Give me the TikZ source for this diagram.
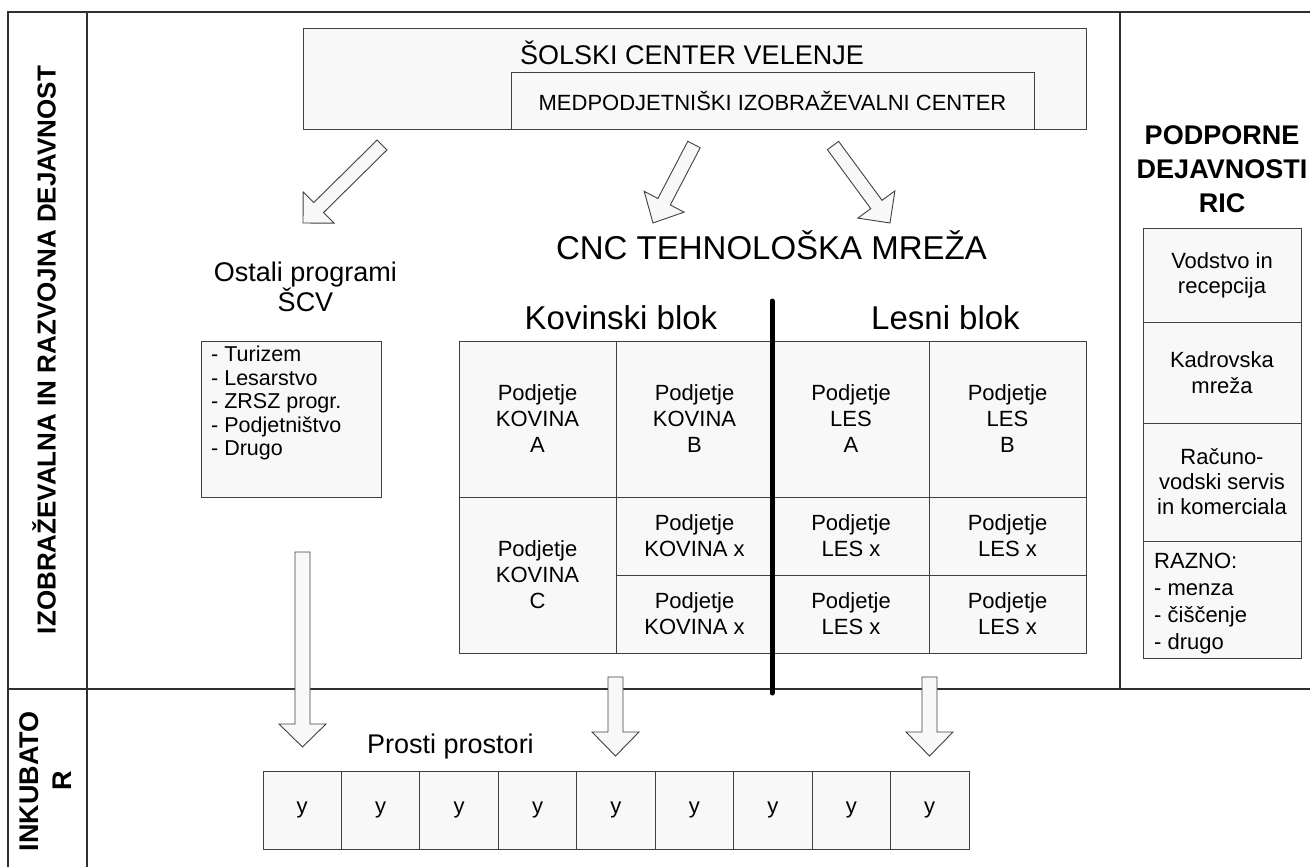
\documentclass[tikz,border=0pt]{standalone}
\usepackage{fontspec}
\setmainfont{Liberation Sans}
\usetikzlibrary{calc}
\definecolor{boxfill}{HTML}{F8F8F8}
\definecolor{linec}{HTML}{404040}
\definecolor{framec}{HTML}{303030}
\newcommand{\fsz}[2]{\fontsize{#1}{#2}\selectfont}
\newcommand{\myblockarrow}[5]{%
  \coordinate (#1-base) at ($(#2)!#5!(#1)$);
  \draw[arrowbox] ($(#1)!#3!90:(#2)$) -- ($(#1-base)!#3!90:(#2)$) -- ($(#1-base)!#4!90:(#2)$) -- (#2)
    -- ($(#1-base)!#4!-90:(#2)$) -- ($(#1-base)!#3!-90:(#2)$) -- ($(#1)!#3!-90:(#2)$) -- cycle;}
\begin{document}
\begin{tikzpicture}[x=1pt,y=-1pt,
  frame/.style={draw=framec, line width=1.3pt},
  cellbox/.style={draw=linec, fill=boxfill, line width=0.9pt, inner sep=0pt, align=center, font=\fsz{22}{26}},
  arrowbox/.style={draw=linec, fill=boxfill, line width=0.9pt, line join=miter},
  txt/.style={inner sep=0pt, align=center},
  sepline/.style={draw=black, line width=5pt, line cap=round}]
\useasboundingbox (0,0) rectangle (1310,867);
% frame
\coordinate (ftl) at (8,12);
\coordinate (ftr) at (1310,12);
\coordinate (fbl) at (8,867);
\coordinate (c2t) at (87,12);
\coordinate (c2b) at (87,867);
\coordinate (hl) at (8,689);
\coordinate (hr) at (1310,689);
\coordinate (c3t) at (1120,12);
\coordinate (c3b) at (1120,689);
\draw[frame] (ftr) -- (ftl) -- (fbl);
\draw[frame] (c2t) -- (c2b);
\draw[frame] (hl) -- (hr);
\draw[frame] (c3t) -- (c3b);
% left labels
\node[txt, rotate=90, font=\fsz{26}{30}\bfseries] (lab1) at (44,350) {IZOBRAŽEVALNA IN RAZVOJNA DEJAVNOST};
\node[txt, rotate=90, font=\fsz{27}{33}\bfseries] (lab2) at (45.5,781) {INKUBATO\\R};
% top box
\node[cellbox, minimum width=783pt, minimum height=101pt] (scv) at (694.5,78.5) {};
\node[txt, font=\fsz{27}{30}] (scvt) at (692,53) {ŠOLSKI CENTER VELENJE};
\node[cellbox, minimum width=523pt, minimum height=57pt, font=\fsz{22}{26}] (mic) at (772.5,100.5) {MEDPODJETNIŠKI IZOBRAŽEVALNI CENTER};
% slanted arrows
\coordinate (a1s) at (382,145); \coordinate (a1e) at (303,223);
\coordinate (a2s) at (694,144.5); \coordinate (a2e) at (653,223);
\coordinate (a3s) at (833,145.5); \coordinate (a3e) at (890,223);
\myblockarrow{a1s}{a1e}{7pt}{22pt}{22pt}
\myblockarrow{a2s}{a2e}{7pt}{22.5pt}{24pt}
\myblockarrow{a3s}{a3e}{7pt}{23pt}{23pt}
% headings
\node[txt, font=\fsz{33}{36}] (cnc) at (771.5,245) {CNC TEHNOLOŠKA MREŽA};
\node[txt, font=\fsz{27}{30}] (ost) at (305.5,287) {Ostali programi\\ŠCV};
\node[txt, font=\fsz{33}{36}] (kov) at (621,318) {Kovinski blok};
\node[txt, font=\fsz{33}{36}] (les) at (945.5,318) {Lesni blok};
% ostali box
\node[cellbox, minimum width=180pt, minimum height=156pt] (ostbox) at (291,419) {};
\node[txt, anchor=west, align=left, font=\fsz{21.5}{23.5}] (osttxt) at (211,403) {- Turizem\\- Lesarstvo\\- ZRSZ progr.\\- Podjetništvo\\- Drugo};
% grid
\node[cellbox, minimum width=157pt, minimum height=156pt] (ka) at (537.5,419) {Podjetje\\KOVINA\\A};
\node[cellbox, minimum width=157pt, minimum height=156pt] (kb) at (694.5,419) {Podjetje\\KOVINA\\B};
\node[cellbox, minimum width=157pt, minimum height=156pt] (kc) at (537.5,575) {Podjetje\\KOVINA\\C};
\node[cellbox, minimum width=157pt, minimum height=78pt] (kx1) at (694.5,536) {Podjetje\\KOVINA x};
\node[cellbox, minimum width=157pt, minimum height=78pt] (kx2) at (694.5,614) {Podjetje\\KOVINA x};
\node[cellbox, minimum width=156pt, minimum height=156pt] (la) at (851,419) {Podjetje\\LES\\A};
\node[cellbox, minimum width=157pt, minimum height=156pt] (lb) at (1007.5,419) {Podjetje\\LES\\B};
\node[cellbox, minimum width=156pt, minimum height=78pt] (lx1) at (851,536) {Podjetje\\LES x};
\node[cellbox, minimum width=156pt, minimum height=78pt] (lx2) at (851,614) {Podjetje\\LES x};
\node[cellbox, minimum width=157pt, minimum height=78pt] (lx3) at (1007.5,536) {Podjetje\\LES x};
\node[cellbox, minimum width=157pt, minimum height=78pt] (lx4) at (1007.5,614) {Podjetje\\LES x};
% separator
\coordinate (sept) at (772,301);
\coordinate (sepb) at (772,693);
\draw[sepline] (sept) -- (sepb);
% right column
\node[txt, font=\fsz{27}{34}\bfseries] (pod) at (1222,169) {PODPORNE\\DEJAVNOSTI\\RIC};
\node[cellbox, minimum width=158pt, minimum height=94pt, font=\fsz{22}{25}] (r1) at (1222,275) {Vodstvo in\\recepcija};
\node[cellbox, minimum width=158pt, minimum height=101pt, font=\fsz{22}{26.5}] (r2) at (1222,372.5) {Kadrovska\\mreža};
\node[cellbox, minimum width=158pt, minimum height=118pt, font=\fsz{22}{25}] (r3) at (1222,482) {Računo-\\vodski servis\\in komerciala};
\node[cellbox, minimum width=158pt, minimum height=117pt] (r4) at (1222,599.5) {};
\node[txt, anchor=west, align=left, font=\fsz{22}{27}] (r4t) at (1154,603.5) {RAZNO:\\- menza\\- čiščenje\\- drugo};
% vertical arrows
\coordinate (v1s) at (302.5,552); \coordinate (v1e) at (302.5,747);
\coordinate (v2s) at (615.5,677); \coordinate (v2e) at (615.5,756);
\coordinate (v3s) at (929.5,677); \coordinate (v3e) at (929.5,756);
\myblockarrow{v1s}{v1e}{7.5pt}{23.5pt}{23pt}
\myblockarrow{v2s}{v2e}{7.5pt}{23.5pt}{24pt}
\myblockarrow{v3s}{v3e}{7.5pt}{23.5pt}{24pt}
% prosti prostori
\node[txt, font=\fsz{27}{30}] (pros) at (450.5,747) {Prosti prostori};
\foreach \i in {0,...,8} {
  \node[cellbox, minimum width=78.44pt, minimum height=78pt] (y\i) at ({263+39.22+78.44*\i},810) {y};
}
\end{tikzpicture}
\end{document}
